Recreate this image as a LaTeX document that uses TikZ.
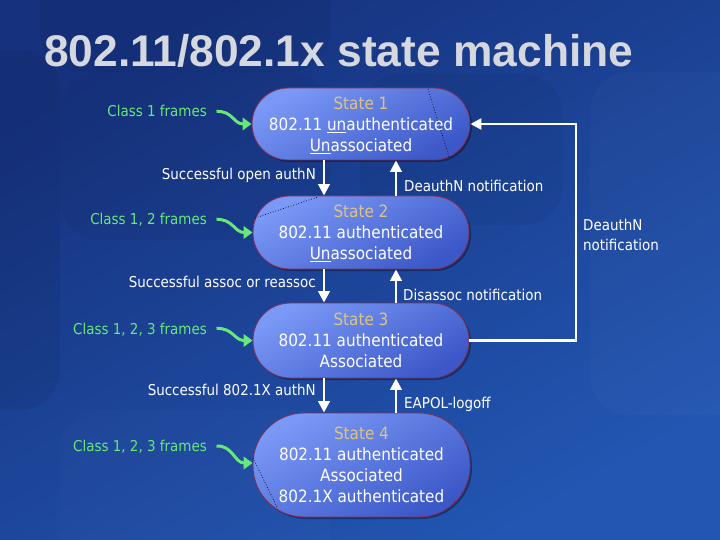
\documentclass[tikz,border=0pt]{standalone}
\usepackage{fontspec}
\setmainfont{DejaVu Sans}[FakeStretch=0.9]
\newfontfamily\titlefont{Liberation Sans}
\usetikzlibrary{arrows.meta,shadows}
\definecolor{bgA}{RGB}{22,50,126}
\definecolor{bgB}{RGB}{34,86,178}
\definecolor{stTop}{RGB}{122,152,246}
\definecolor{stBot}{RGB}{60,88,200}
\definecolor{stEdge}{RGB}{128,48,88}
\definecolor{tan}{RGB}{220,196,132}
\definecolor{grn}{RGB}{104,232,120}
\definecolor{ttl}{RGB}{214,216,224}
\begin{document}
\begin{tikzpicture}[x=1bp,y=-1bp,
  state/.style={draw=stEdge, line width=0.9bp, top color=stTop, bottom color=stBot,
    shading angle=30, text=white, align=center, inner sep=0pt,
    font=\fontsize{17}{21}\selectfont,
    drop shadow={shadow xshift=2bp, shadow yshift=-2bp, opacity=.35, fill=black}},
  lbl/.style={text=white, inner sep=0pt, font=\fontsize{15}{20}\selectfont},
  glbl/.style={text=grn, inner sep=0pt, font=\fontsize{15}{20}\selectfont,
    text height=11bp, text depth=0pt},
  flow/.style={draw=white, line width=2.6bp, -{Triangle[width=11.5bp,length=11.5bp]}},
  loopline/.style={draw=white, line width=2.4bp, -{Triangle[width=11bp,length=11bp]}},
  garrow/.style={draw=grn, line width=3bp, -{Triangle[width=12.5bp,length=9bp]}},
  artif/.style={draw=black, line width=0.7bp, dotted}]
\useasboundingbox (0,0) rectangle (720,540);
% background
\shade[top color=bgA, bottom color=bgB, shading angle=30] (0,0) rectangle (720,540);
\fill[black, opacity=.06, rounded corners=40bp] (-60,50) rectangle (60,410);
\fill[black, opacity=.05, rounded corners=40bp] (40,-40) rectangle (330,72);
\fill[black, opacity=.04, rounded corners=40bp] (60,72) rectangle (330,240);
\fill[black, opacity=.045, rounded corners=40bp] (360,74) rectangle (563,225);
\fill[white, opacity=.02, rounded corners=40bp] (590,72) rectangle (780,415);
\fill[white, opacity=.015, rounded corners=40bp] (60,410) rectangle (330,580);
% title
\node[anchor=base west, inner sep=0pt, text=ttl,
  font=\titlefont\bfseries\fontsize{44.5}{50}\selectfont] (title) at (44,67) {802.11/802.1x state machine};
% states
\node[state, minimum width=218bp, minimum height=72bp, rounded corners=36bp] (S1) at (361,124)
  {{\color{tan}State 1}\\802.11 \smash{\underline{un}}authenticated\\\smash{\underline{Un}}associated};
\node[state, minimum width=216bp, minimum height=73bp, rounded corners=36bp] (S2) at (361,232.5)
  {{\color{tan}State 2}\\802.11 authenticated\\\smash{\underline{Un}}associated};
\node[state, minimum width=216bp, minimum height=75bp, rounded corners=37bp] (S3) at (361,340.5)
  {{\color{tan}State 3}\\802.11 authenticated\\Associated};
\node[state, minimum width=217bp, minimum height=104bp, rounded corners=51bp] (S4) at (361.5,465)
  {{\color{tan}State 4}\\802.11 authenticated\\Associated\\802.1X authenticated};
% artefact dotted lines
\draw[artif] (428,89) -- (449,157);
\draw[artif] (255,218) -- (318,197);
\draw[artif] (253,458) -- (277,507);
% helper coordinates
\coordinate (dn) at (324,0);
\coordinate (up) at (396,0);
\coordinate (lx) at (576,0);
% transitions
\draw[flow] (S1.south -| dn) -- (S2.north -| dn);
\draw[flow] (S2.north -| up) -- (S1.south -| up);
\draw[flow] (S2.south -| dn) -- (S3.north -| dn);
\draw[flow] (S3.north -| up) -- (S2.south -| up);
\draw[flow] (S3.south -| dn) -- (S4.north -| dn);
\draw[flow] (S4.north -| up) -- (S3.south -| up);
\draw[loopline] (S3.east) -- (S3.east -| lx) -- (S1.east -| lx) -- (S1.east);
% transition labels
\node[lbl, anchor=base east] (t12) at (316,180) {Successful open authN};
\node[lbl, anchor=base west] (t21) at (404,191.5) {DeauthN notification};
\node[lbl, anchor=base east] (t23) at (316,287.5) {Successful assoc or reassoc};
\node[lbl, anchor=base west] (t32) at (403,300.5) {Disassoc notification};
\node[lbl, anchor=base east] (t34) at (316,395) {Successful 802.1X authN};
\node[lbl, anchor=base west] (t43) at (404,408) {EAPOL-logoff};
\node[lbl, anchor=north west, align=left] (t31) at (583,219) {DeauthN\\notification};
% frame classes
\node[glbl, anchor=base east] (c1) at (207,117) {Class 1 frames};
\node[glbl, anchor=base east] (c2) at (207,225) {Class 1, 2 frames};
\node[glbl, anchor=base east] (c3) at (207,334) {Class 1, 2, 3 frames};
\node[glbl, anchor=base east] (c4) at (207,451.5) {Class 1, 2, 3 frames};
\draw[garrow] ([xshift=9.5bp]c1.east) .. controls +(16,-1) and +(-18,0) .. (S1.west);
\draw[garrow] ([xshift=9.5bp]c2.east) .. controls +(16,-1) and +(-18,0) .. (S2.west);
\draw[garrow] ([xshift=9.5bp]c3.east) .. controls +(16,-1) and +(-18,0) .. (S3.west);
\draw[garrow] ([xshift=9.5bp]c4.east) .. controls +(16,-1) and +(-18,0) .. ([yshift=2bp]S4.west);
\end{tikzpicture}
\end{document}
